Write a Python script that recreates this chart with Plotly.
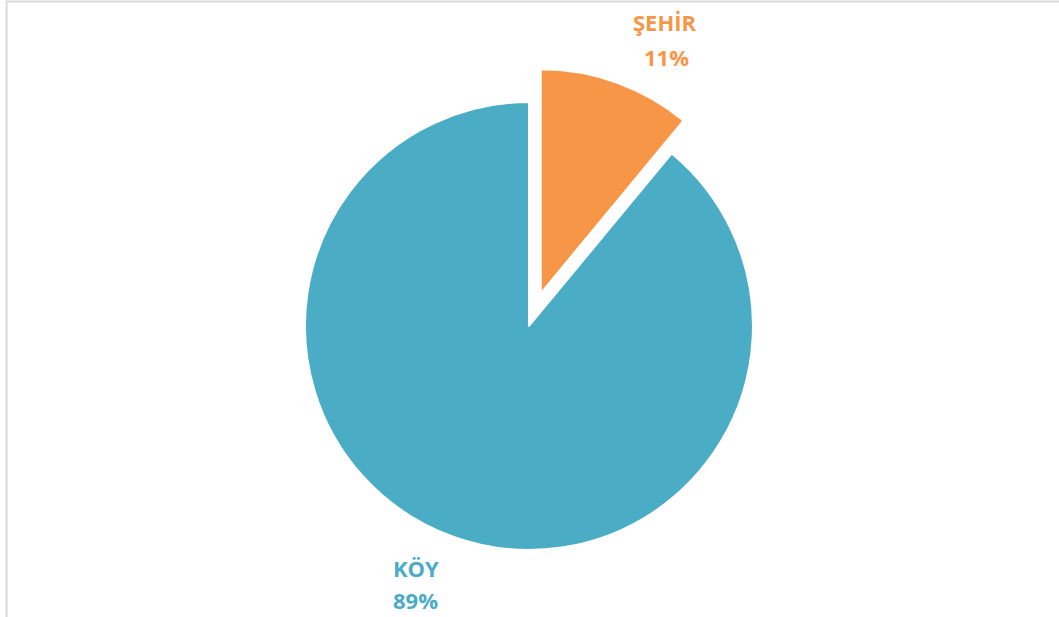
import plotly.graph_objects as go

labels = ["ŞEHİR", "KÖY"]
values = [11, 89]
colors = ["#F79646", "#4BACC6"]
pulls = [0.155, 0]

fig = go.Figure(go.Pie(
    labels=labels, values=values, sort=False, direction="clockwise", rotation=0,
    pull=pulls, textinfo="none", hoverinfo="label+percent",
    marker=dict(colors=colors, line=dict(color="white", width=2)),
    domain=dict(x=[0.2162, 0.7828], y=[0.0524, 0.891]),
    showlegend=False,
))

label_pos = {"ŞEHİR": [(0.628, 0.9643), (0.629, 0.9076)],
             "KÖY": [(0.3928, 0.0794), (0.3919, 0.0276)]}
total = sum(values)
for lab, val, col in zip(labels, values, colors):
    (x1, y1), (x2, y2) = label_pos[lab]
    for txt, x, y in [(lab, x1, y1), (f"{round(100*val/total)}%", x2, y2)]:
        fig.add_annotation(x=x, y=y, xref="paper", yref="paper", text=f"<b>{txt}</b>",
                           showarrow=False, font=dict(family="Open Sans", size=22, color=col),
                           xanchor="center", yanchor="middle")

fig.add_shape(type="line", xref="paper", yref="paper", x0=0.0057, x1=1, y0=0.9975, y1=0.9975,
              line=dict(color="#D9D9D9", width=2))
fig.add_shape(type="line", xref="paper", yref="paper", x0=0.0062, x1=0.0062, y0=0, y1=0.9975,
              line=dict(color="#D9D9D9", width=2))

fig.update_layout(width=1059, height=617, margin=dict(l=0, r=0, t=0, b=0),
                  paper_bgcolor="white", plot_bgcolor="white")
fig.write_html("out.html", config={"displayModeBar": False},
               post_script="document.body.style.margin='0';document.body.style.overflow='hidden';")
